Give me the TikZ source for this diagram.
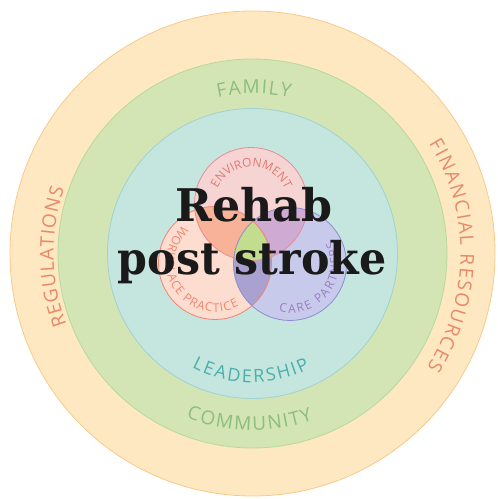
\documentclass[tikz,border=0pt]{standalone}
\usepackage{fontspec}
\usepackage{graphicx}
\usetikzlibrary{decorations.text}
\newfontfamily\labfont{Open Sans}
\newfontfamily\titlefont{DejaVu Serif}
\definecolor{outerfill}{HTML}{FDE8C2}
\definecolor{outerline}{HTML}{F9C98B}
\definecolor{greenfill}{HTML}{D3E5B5}
\definecolor{greenline}{HTML}{B7D99A}
\definecolor{tealfill}{HTML}{C5E6DF}
\definecolor{tealline}{HTML}{A0D2CF}
\definecolor{envfill}{HTML}{F6D4D4}
\definecolor{envline}{HTML}{E58E93}
\definecolor{workfill}{HTML}{FDDDCF}
\definecolor{workline}{HTML}{F3826F}
\definecolor{carefill}{HTML}{C8CAEB}
\definecolor{careline}{HTML}{8F8BCF}
\definecolor{ewfill}{HTML}{F8B298}
\definecolor{ecfill}{HTML}{CFAAD3}
\definecolor{wcfill}{HTML}{A9A1D0}
\definecolor{allfill}{HTML}{C3DD8F}
\definecolor{ringtext}{HTML}{E8896A}
\definecolor{greentext}{HTML}{8DBD7F}
\definecolor{tealtext}{HTML}{4BAEAA}
\definecolor{envtext}{HTML}{E07A72}
\definecolor{worktext}{HTML}{F2856E}
\definecolor{caretext}{HTML}{9C7CC0}
\definecolor{titlec}{HTML}{1A1A1A}
\tikzset{
  titlestyle/.style={font=\titlefont\bfseries\fontsize{45}{45}\selectfont, inner sep=0pt, text=titlec, anchor=base},
  arclabel/.style={decorate, decoration={text along path, text align={fit to path}, text={#1}}}
}
\begin{document}
\begin{tikzpicture}[x=1pt,y=1pt]
\useasboundingbox (0,0) rectangle (498,499);
\coordinate (O) at (252.5,245.5);
\coordinate (E) at (251,295);
\coordinate (W) at (215,236);
\coordinate (C) at (290,235);
% rings
\filldraw[fill=outerfill, draw=outerline, line width=0.8pt] (O) circle[radius=242.5];
\filldraw[fill=greenfill, draw=greenline, line width=0.8pt] (O) circle[radius=194.5];
\filldraw[fill=tealfill, draw=tealline, line width=0.8pt] (O) circle[radius=145];
% venn fills
\fill[envfill] (E) circle[radius=56.5];
\fill[workfill] (W) circle[radius=56.5];
\fill[carefill] (C) circle[radius=56.5];
\begin{scope}
  \clip (E) circle[radius=56.5];
  \fill[ewfill] (W) circle[radius=56.5];
  \fill[ecfill] (C) circle[radius=56.5];
\end{scope}
\begin{scope}
  \clip (W) circle[radius=56.5];
  \fill[wcfill] (C) circle[radius=56.5];
\end{scope}
\begin{scope}
  \clip (E) circle[radius=56.5];
  \clip (W) circle[radius=56.5];
  \fill[allfill] (C) circle[radius=56.5];
\end{scope}
\draw[envline, line width=0.8pt] (E) circle[radius=56.5];
\draw[workline, line width=0.8pt] (W) circle[radius=56.5];
\draw[careline, line width=0.8pt] (C) circle[radius=56.5];
% ring labels
\path[arclabel={|\labfont\fontsize{19}{19}\selectfont\color{ringtext}|REGULATIONS}]
  ([shift={(201:199)}]O) arc[start angle=201, end angle=161, radius=199];
\path[arclabel={|\labfont\fontsize{19}{19}\selectfont\color{ringtext}|FINANCIAL RESOURCES}]
  ([shift={(32:208)}]O) arc[start angle=32, end angle=-33, radius=208];
\path[arclabel={|\labfont\fontsize{19}{19}\selectfont\color{greentext}|FAMILY}]
  ([shift={(102.5:160)}]O) arc[start angle=102.5, end angle=76.5, radius=160];
\path[arclabel={|\labfont\fontsize{19}{19}\selectfont\color{greentext}|COMMUNITY}]
  ([shift={(248:177)}]O) arc[start angle=248, end angle=290, radius=177];
\path[arclabel={|\labfont\fontsize{18}{18}\selectfont\color{tealtext}|LEADERSHIP}]
  ([shift={(242:129)}]O) arc[start angle=242, end angle=296.5, radius=129];
% venn labels
\path[arclabel={|\labfont\fontsize{12}{12}\selectfont\color{envtext}|ENVIRONMENT}]
  ([shift={(155:37)}]E) arc[start angle=155, end angle=25, radius=37];
\path[arclabel={|\labfont\fontsize{12}{12}\selectfont\color{worktext}|WORKPLACE PRACTICE}]
  ([shift={(131:49)}]W) arc[start angle=131, end angle=299, radius=49];
\path[arclabel={|\labfont\fontsize{12}{12}\selectfont\color{caretext}|CARE PARTNERS}]
  ([shift={(257:49)}]C) arc[start angle=257, end angle=389, radius=49];
% title
\node[titlestyle] (t1) at (254.2,277.3) {\scalebox{0.985}[1]{Rehab}};
\node[titlestyle] (t2) at (252.2,224) {\scalebox{0.95}[1]{post stroke}};
\end{tikzpicture}
\end{document}
